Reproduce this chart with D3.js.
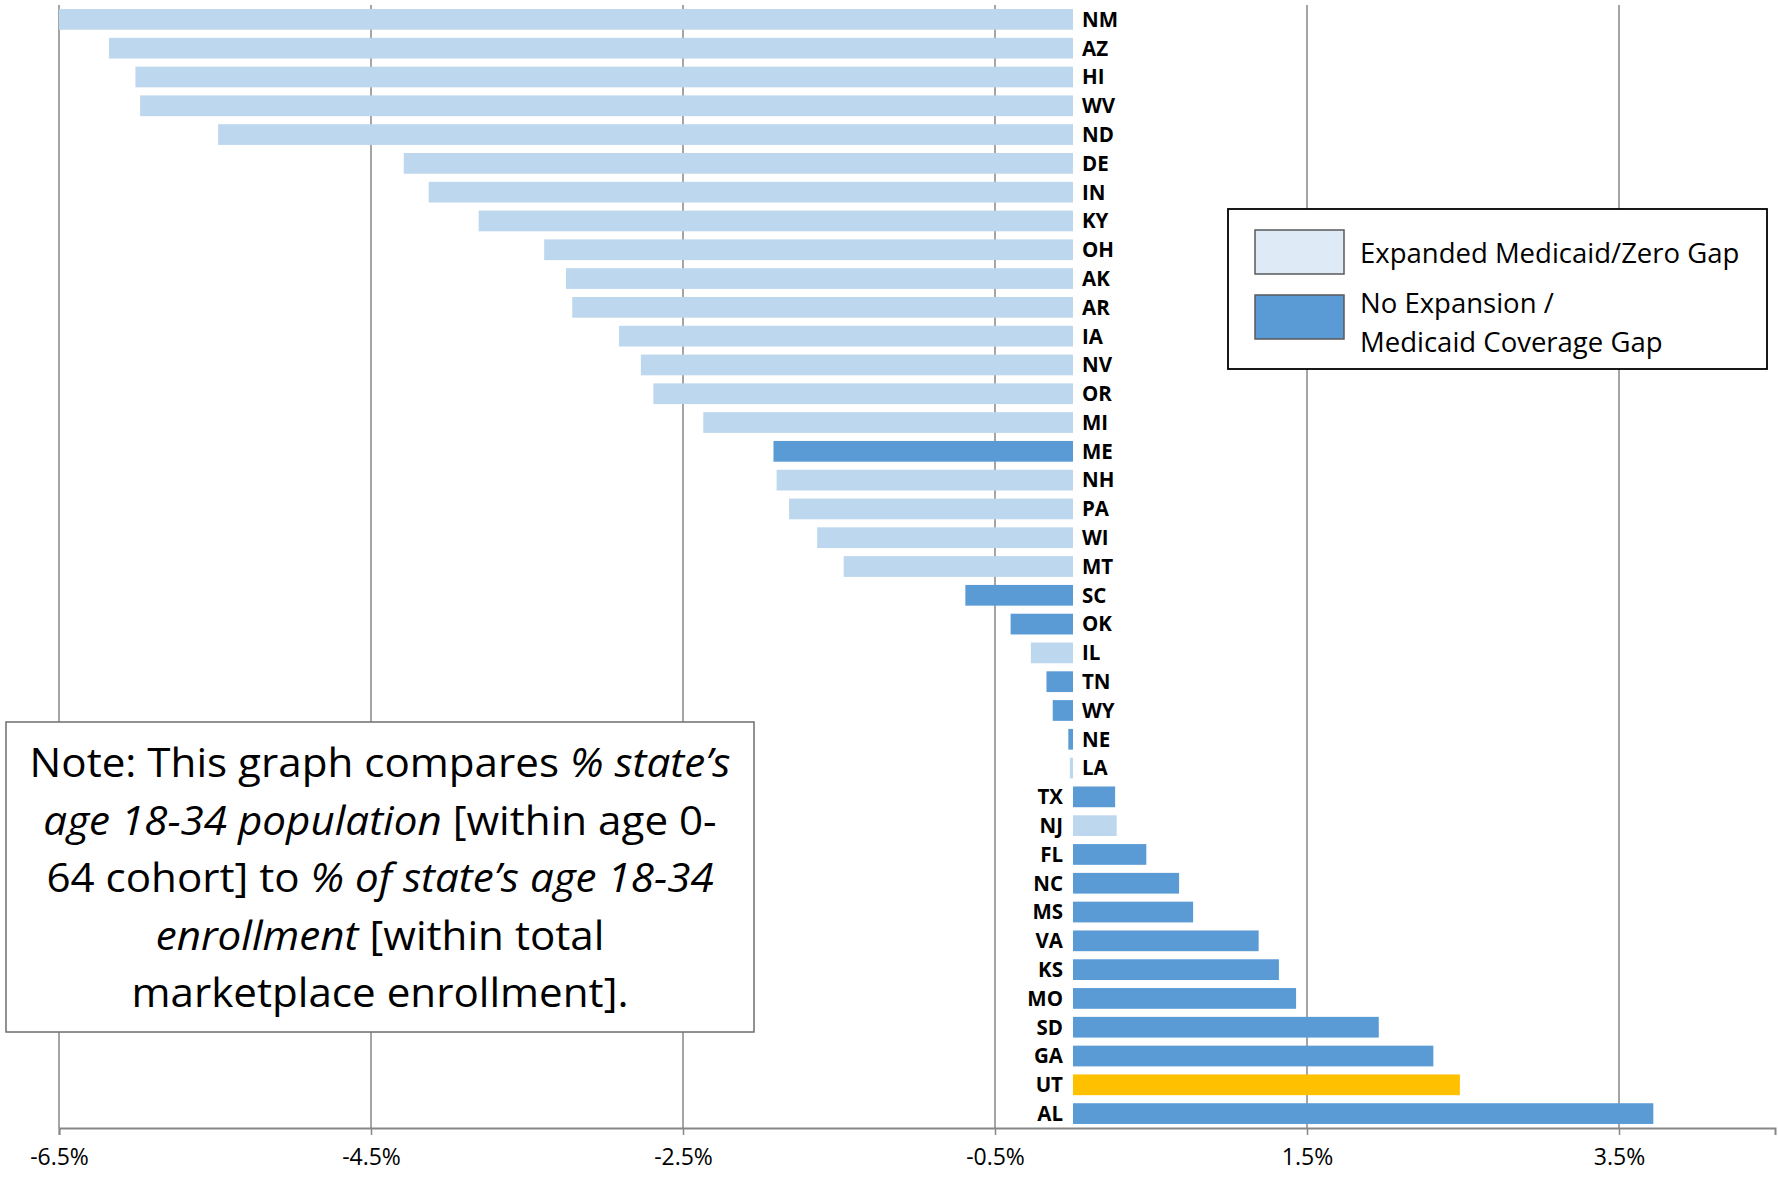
<!DOCTYPE html>
<html>
<head>
<meta charset="utf-8">
<script src="https://cdn.jsdelivr.net/npm/d3@7"></script>
<style>
  body { margin: 0; background: #fff; }
  svg { display: block; font-family: "Open Sans", sans-serif; }
</style>
</head>
<body>
<div id="wrapper"></div>
<script>
// states from top to bottom, gap vs zero (percentage points)
const states = ["NM","AZ","HI","WV","ND","DE","IN","KY","OH","AK","AR","IA","NV","OR","MI",
  "ME","NH","PA","WI","MT","SC","OK","IL","TN","WY","NE","LA","TX","NJ","FL","NC","MS",
  "VA","KS","MO","SD","GA","UT","AL"]
const values = [-6.50,-6.18,-6.01,-5.98,-5.48,-4.29,-4.13,-3.81,-3.39,-3.25,-3.21,-2.91,-2.77,-2.69,-2.37,
  -1.92,-1.90,-1.82,-1.64,-1.47,-0.69,-0.40,-0.27,-0.17,-0.13,-0.03,-0.02,0.27,0.28,0.47,0.68,0.77,
  1.19,1.32,1.43,1.96,2.31,2.48,3.72]
// e = expanded medicaid, g = coverage gap, u = Utah (highlighted)
const groups = ["e","e","e","e","e","e","e","e","e","e","e","e","e","e","e",
  "g","e","e","e","e","g","g","e","g","g","g","e","g","e","g","g","g",
  "g","g","g","g","g","u","g"]
const tickValues = [-6.5, -4.5, -2.5, -0.5, 1.5, 3.5]
const legendLabels = [["Expanded Medicaid/Zero Gap"], ["No Expansion /", "Medicaid Coverage Gap"]]

function drawChart() {
  const dataset = states.map((s, i) => ({ state: s, value: values[i], group: groups[i] }))

  let dimensions = {
    width: 1778,
    height: 1178,
    margin: { top: 5, right: 3, bottom: 50, left: 59 },
  }
  dimensions.boundedWidth = dimensions.width - dimensions.margin.left - dimensions.margin.right
  dimensions.boundedHeight = dimensions.height - dimensions.margin.top - dimensions.margin.bottom

  const wrapper = d3.select("#wrapper")
    .append("svg")
      .attr("width", dimensions.width)
      .attr("height", dimensions.height)

  const bounds = wrapper.append("g")
      .attr("transform", `translate(${dimensions.margin.left},${dimensions.margin.top})`)

  const xScale = d3.scaleLinear()
      .domain([-6.5, 4.5])
      .range([0, dimensions.boundedWidth])
  const yScale = d3.scaleBand()
      .domain(states)
      .range([0, dimensions.boundedHeight])
      .paddingInner(0.28)
      .paddingOuter(0.14)

  const colors = { e: "#bdd7ee", g: "#5b9bd5", u: "#ffc000" }

  // vertical gridlines
  bounds.append("g")
    .selectAll("line")
    .data(tickValues)
    .enter().append("line")
      .attr("x1", d => xScale(d))
      .attr("x2", d => xScale(d))
      .attr("y1", 0)
      .attr("y2", dimensions.boundedHeight)
      .attr("stroke", "#878787")
      .attr("stroke-width", 1.5)

  // bars
  bounds.append("g")
    .selectAll("rect")
    .data(dataset)
    .enter().append("rect")
      .attr("x", d => xScale(Math.min(0, d.value)))
      .attr("width", d => Math.abs(xScale(d.value) - xScale(0)))
      .attr("y", d => yScale(d.state))
      .attr("height", yScale.bandwidth())
      .attr("fill", d => colors[d.group])

  // state labels sit next to the zero line, on the side away from the bar
  bounds.append("g")
    .selectAll("text")
    .data(dataset)
    .enter().append("text")
      .attr("x", d => d.value < 0 ? xScale(0) + 9 : xScale(0) - 10)
      .attr("y", d => yScale(d.state) + yScale.bandwidth() / 2)
      .attr("dy", "0.36em")
      .attr("text-anchor", d => d.value < 0 ? "start" : "end")
      .attr("font-weight", 700)
      .attr("font-size", 20.5)
      .attr("fill", "#000")
      .text(d => d.state)

  // x axis, plain hyphen for the minus like the original
  const pctFormat = d3.formatLocale({ decimal: ".", thousands: ",", grouping: [3], currency: ["", ""], minus: "-" })
    .format(".1f")
  const xAxisGenerator = d3.axisBottom(xScale)
    .tickValues(tickValues)
    .tickFormat(d => pctFormat(d) + "%")
    .tickSize(7)
    .tickPadding(14)
  const xAxis = bounds.append("g")
      .attr("transform", `translate(0,${dimensions.boundedHeight})`)
      .call(xAxisGenerator)
  xAxis.select(".domain").attr("stroke", "#878787").attr("stroke-width", 2)
  xAxis.selectAll(".tick line").attr("stroke", "#878787").attr("stroke-width", 1.5)
  xAxis.selectAll(".tick text")
      .attr("font-family", "Open Sans, sans-serif")
      .attr("font-size", 23)
      .attr("fill", "#000")

  // legend
  const legend = wrapper.append("g")
  legend.append("rect")
      .attr("x", 1228).attr("y", 209)
      .attr("width", 539).attr("height", 160)
      .attr("fill", "#fff")
      .attr("stroke", "#000")
      .attr("stroke-width", 1.8)
  const legendItems = legend.selectAll(".item")
    .data(legendLabels)
    .enter().append("g")
      .attr("transform", (d, i) => `translate(1255,${i === 0 ? 230 : 295})`)
  legendItems.append("rect")
      .attr("width", 89)
      .attr("height", 44)
      .attr("fill", (d, i) => i === 0 ? "#deebf7" : "#5b9bd5")
      .attr("stroke", "#595959")
      .attr("stroke-width", 1.5)
  legendItems.append("text")
      .attr("font-size", 27.5)
      .attr("fill", "#000")
    .selectAll("tspan")
    .data(d => d)
    .enter().append("tspan")
      .attr("x", 105)
      .attr("y", (d, i, nodes) => nodes.length === 1 ? 33 : 18 + i * 39)
      .text(d => d)

  // note box
  const note = wrapper.append("g")
  note.append("rect")
      .attr("x", 6).attr("y", 722)
      .attr("width", 748).attr("height", 310)
      .attr("fill", "#fff")
      .attr("stroke", "#6e6e6e")
      .attr("stroke-width", 1.5)
  const noteLines = [
    [["Note: This graph compares ", false], ["% state\u2019s", true]],
    [["age 18-34 population", true], [" [within age 0-", false]],
    [["64 cohort] to ", false], ["% of state\u2019s age 18-34", true]],
    [["enrollment", true], [" [within total", false]],
    [["marketplace enrollment].", false]],
  ]
  const noteText = note.append("g")
  noteText.selectAll("text")
    .data(noteLines)
    .enter().append("text")
      .attr("x", 0)
      .attr("y", (d, i) => 777 + i * 57.6)
      .attr("text-anchor", "middle")
      .attr("font-size", 41)
      .attr("fill", "#000")
    .selectAll("tspan")
    .data(d => d)
    .enter().append("tspan")
      .attr("font-style", d => d[1] ? "italic" : "normal")
      .text(d => d[0])
  // squeeze the wide sans font to the narrower width of the original
  const firstWidth = noteText.select("text").node().getComputedTextLength()
  noteText.attr("transform", `translate(380,0) scale(${701 / firstWidth},1)`)
}
drawChart()
</script>
</body>
</html>
